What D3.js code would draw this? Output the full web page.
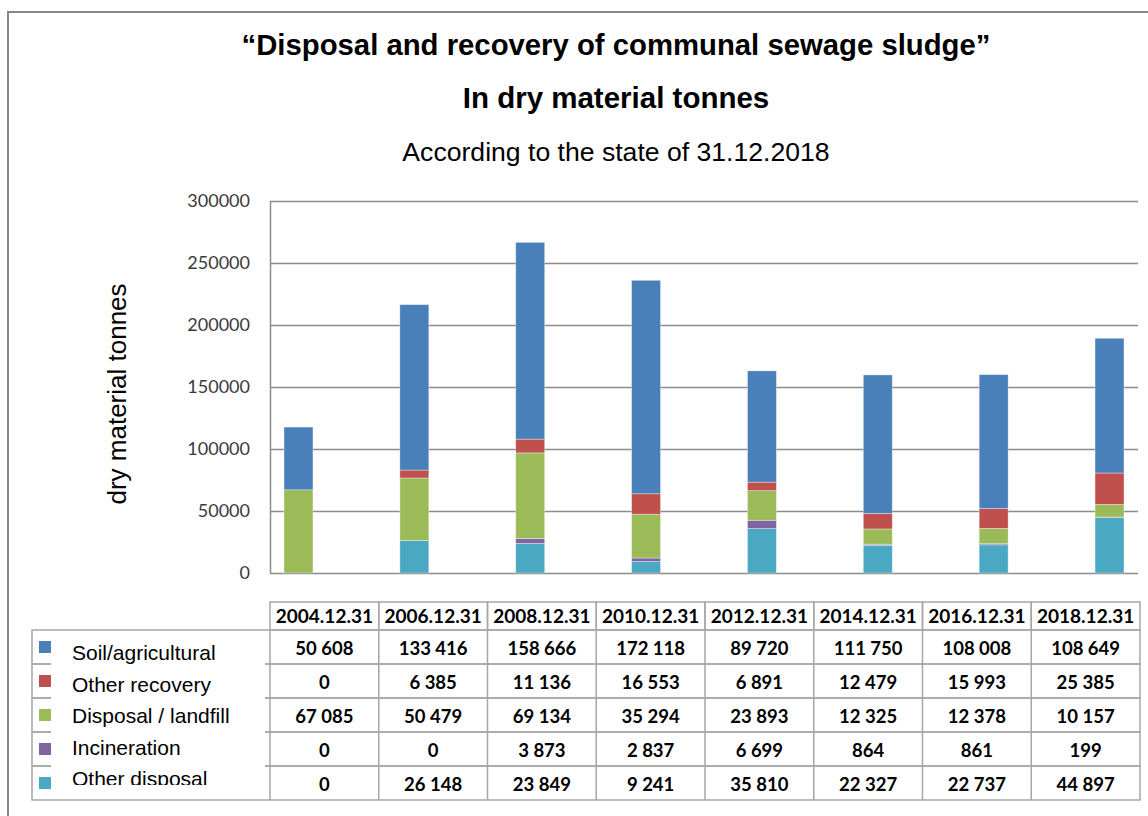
<!DOCTYPE html>
<html>
<head>
<meta charset="utf-8">
<script src="https://cdn.jsdelivr.net/npm/d3@7"></script>
<style>
  html, body { margin: 0; padding: 0; background: #fff; }
  svg { display: block; }
</style>
</head>
<body>
<svg id="chart" width="1148" height="816"></svg>
<script>
// Reporting dates (one stacked bar per date)
const categories = ["2004.12.31", "2006.12.31", "2008.12.31", "2010.12.31",
                    "2012.12.31", "2014.12.31", "2016.12.31", "2018.12.31"];

// Dry material tonnes per treatment route
const soilAgricultural = [50608, 133416, 158666, 172118, 89720, 111750, 108008, 108649];
const otherRecovery    = [0, 6385, 11136, 16553, 6891, 12479, 15993, 25385];
const disposalLandfill = [67085, 50479, 69134, 35294, 23893, 12325, 12378, 10157];
const incineration     = [0, 0, 3873, 2837, 6699, 864, 861, 199];
const otherDisposal    = [0, 26148, 23849, 9241, 35810, 22327, 22737, 44897];

// Series names, in table / legend order
const seriesNames = ["Soil/agricultural", "Other recovery", "Disposal / landfill",
                     "Incineration", "Other disposal"];
const seriesValues = [soilAgricultural, otherRecovery, disposalLandfill, incineration, otherDisposal];
const seriesColors = ["#4a80b9", "#c0504d", "#9bbb59", "#8064a2", "#4aa8c3"];

// Y axis ticks
const yTicks = [0, 50000, 100000, 150000, 200000, 250000, 300000];

const svg = d3.select("#chart");

// Outer frame (top and left edges)
svg.append("path")
  .attr("d", "M8,816 V12 H1148")
  .attr("fill", "none")
  .attr("stroke", "#878787")
  .attr("stroke-width", 2);

// Titles
const titleFont = "'Liberation Sans', Arial, sans-serif";
svg.append("text").attr("x", 616).attr("y", 55)
  .attr("text-anchor", "middle").attr("font-family", titleFont)
  .attr("font-size", 29.3).attr("font-weight", "bold")
  .text("\u201cDisposal and recovery of communal sewage sludge\u201d");
svg.append("text").attr("x", 616).attr("y", 108)
  .attr("text-anchor", "middle").attr("font-family", titleFont)
  .attr("font-size", 29.5).attr("font-weight", "bold")
  .text("In dry material tonnes");
svg.append("text").attr("x", 616).attr("y", 161)
  .attr("text-anchor", "middle").attr("font-family", titleFont)
  .attr("font-size", 26.6)
  .text("According to the state of 31.12.2018");

// Plot geometry
const plotLeft = 270, plotRight = 1138, plotTop = 201, plotBottom = 573;

const y = d3.scaleLinear().domain([0, 300000]).range([plotBottom, plotTop]);
const x = d3.scaleBand().domain(categories).range([284, 1124])
  .paddingInner(0.75).paddingOuter(0);

// Gridlines
svg.append("g").selectAll("line").data(yTicks).join("line")
  .attr("x1", plotLeft).attr("x2", plotRight)
  .attr("y1", d => Math.round(y(d)) + 0.5).attr("y2", d => Math.round(y(d)) + 0.5)
  .attr("stroke", "#8c8c8c").attr("stroke-width", 1.5);

// Y axis
const yAxis = d3.axisLeft(y).tickValues(yTicks).tickSize(0).tickPadding(20)
  .tickFormat(d3.format("d"));
const yg = svg.append("g").attr("transform", `translate(${plotLeft},0)`).call(yAxis);
yg.select(".domain").attr("stroke", "#8c8c8c").attr("stroke-width", 1.5);
yg.selectAll("text")
  .attr("font-family", "Lato, 'Open Sans', sans-serif")
  .attr("font-size", 18).attr("fill", "#3a3a3a");

// Y axis title
svg.append("text")
  .attr("transform", "translate(126,394) rotate(-90)")
  .attr("text-anchor", "middle").attr("font-family", titleFont)
  .attr("font-size", 26)
  .text("dry material tonnes");

// Stacked bars, bottom to top: other disposal, incineration, landfill, other recovery, soil
const rows = categories.map((c, i) => {
  const r = { category: c };
  seriesNames.forEach((s, k) => { r[s] = seriesValues[k][i]; });
  return r;
});
const stackKeys = seriesNames.slice().reverse();
const stacked = d3.stack().keys(stackKeys)(rows);
const colorOf = d3.scaleOrdinal().domain(seriesNames).range(seriesColors);

svg.append("g").selectAll("g").data(stacked).join("g")
  .attr("fill", d => colorOf(d.key))
  .selectAll("rect").data(d => d).join("rect")
  .attr("x", d => x(d.data.category))
  .attr("width", x.bandwidth())
  .attr("y", d => y(d[1]))
  .attr("height", d => Math.max(0, y(d[0]) - y(d[1])))
  .attr("stroke", "#ffffff").attr("stroke-opacity", 0.45).attr("stroke-width", 0.8);

// Data table
const tableLeft = 270, tableRight = 1140;
const headerTop = 602, rowTop = 630, rowH = 34;
const legendLeft = 32;
const col = d3.scaleBand().domain(categories).range([tableLeft, tableRight]);
const fmt = d3.formatLocale({ decimal: ",", thousands: "\u00a0", grouping: [3], currency: ["", ""] }).format(",d");
const gridColor = "#a6a6a6";
const tableFont = "Lato, 'Open Sans', sans-serif";

const table = svg.append("g");

// Header cells
table.selectAll("rect.head").data(categories).join("rect")
  .attr("class", "head")
  .attr("x", d => col(d)).attr("y", headerTop)
  .attr("width", col.bandwidth()).attr("height", rowTop - headerTop)
  .attr("fill", "none").attr("stroke", gridColor).attr("stroke-width", 1.5);
table.selectAll("text.head").data(categories).join("text")
  .attr("class", "head")
  .attr("x", d => col(d) + col.bandwidth() / 2).attr("y", headerTop + 20.5)
  .attr("text-anchor", "middle").attr("font-family", tableFont)
  .attr("font-weight", "bold").attr("font-size", 19)
  .text(d => d);

// Row boxes spanning legend and values, with the values
seriesNames.forEach((s, k) => {
  const top = rowTop + k * rowH;
  table.append("rect")
    .attr("x", legendLeft).attr("y", top)
    .attr("width", tableRight - legendLeft).attr("height", rowH)
    .attr("fill", "none").attr("stroke", gridColor).attr("stroke-width", 1.5);
  table.append("g").selectAll("text").data(categories).join("text")
    .attr("x", d => col(d) + col.bandwidth() / 2).attr("y", top + 24.5)
    .attr("text-anchor", "middle").attr("font-family", tableFont)
    .attr("font-weight", "bold").attr("font-size", 18.5)
    .text((d, i) => fmt(seriesValues[k][i]));
});

// Column separators
table.selectAll("line.col").data(categories).join("line")
  .attr("class", "col")
  .attr("x1", d => col(d)).attr("x2", d => col(d))
  .attr("y1", rowTop).attr("y2", rowTop + rowH * seriesNames.length)
  .attr("stroke", gridColor).attr("stroke-width", 1.5);

// Legend keys in the first column
table.selectAll("rect.key").data(seriesNames).join("rect")
  .attr("class", "key")
  .attr("x", 39).attr("y", (d, k) => rowTop + k * rowH + rowH / 2 - 6)
  .attr("width", 12).attr("height", 12)
  .attr("fill", d => colorOf(d));

// Legend label panel (white box laid over the row lines, clipped at its bottom)
svg.append("clipPath").attr("id", "legendClip")
  .append("rect").attr("x", 51).attr("y", 632).attr("width", 214).attr("height", 153);
const legendPanel = svg.append("g").attr("clip-path", "url(#legendClip)");
legendPanel.append("rect")
  .attr("x", 51).attr("y", 632).attr("width", 214).attr("height", 153)
  .attr("fill", "#ffffff");
legendPanel.selectAll("text").data(seriesNames).join("text")
  .attr("x", 72).attr("y", (d, k) => 660 + k * 31.6)
  .attr("font-family", titleFont).attr("font-size", 21)
  .text(d => d);
</script>
</body>
</html>
